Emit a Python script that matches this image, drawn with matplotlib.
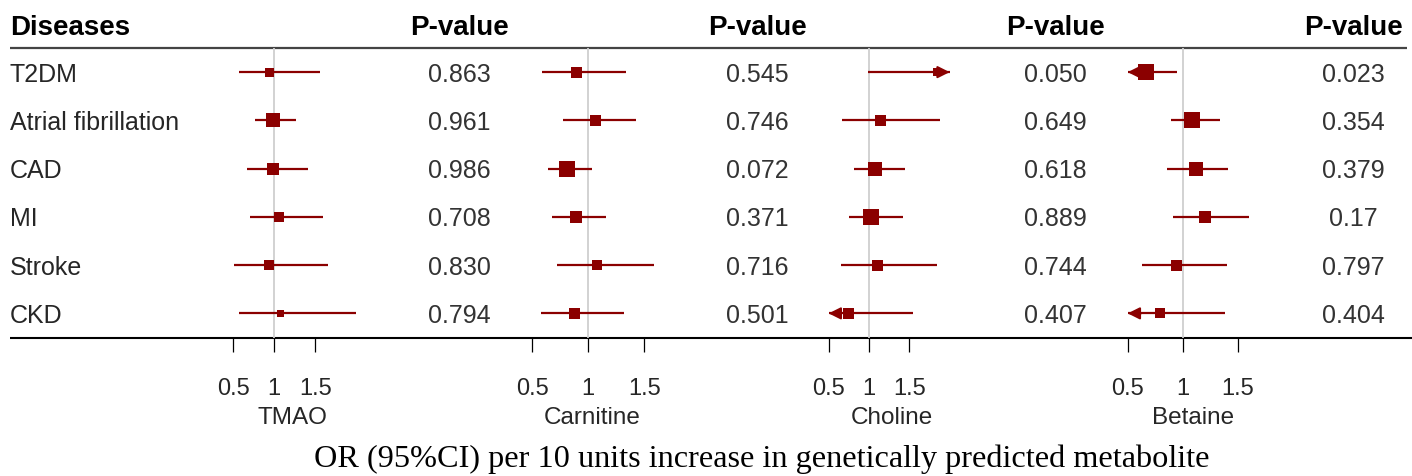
import matplotlib
matplotlib.use('Agg')
import matplotlib.pyplot as plt

W, H, DPI = 1412, 477, 100

diseases = ["T2DM", "Atrial fibrillation", "CAD", "MI", "Stroke", "CKD"]
metabolites = ["TMAO", "Carnitine", "Choline", "Betaine"]

tmao_or = [0.94, 0.98, 0.99, 1.06, 0.93, 1.07]
tmao_lo = [0.57, 0.77, 0.67, 0.71, 0.51, 0.57]
tmao_hi = [1.55, 1.26, 1.41, 1.59, 1.65, 1.99]
tmao_w = [9, 14, 12, 9.5, 9.5, 7]
tmao_p = ["0.863", "0.961", "0.986", "0.708", "0.830", "0.794"]

carn_or = [0.89, 1.06, 0.81, 0.89, 1.08, 0.87]
carn_lo = [0.59, 0.77, 0.64, 0.68, 0.72, 0.58]
carn_hi = [1.34, 1.43, 1.03, 1.16, 1.59, 1.32]
carn_w = [11, 11, 16, 12.5, 9.5, 11]
carn_p = ["0.545", "0.746", "0.072", "0.371", "0.716", "0.501"]

chol_or = [1.84, 1.14, 1.08, 1.03, 1.10, 0.74]
chol_lo = [0.99, 0.67, 0.82, 0.75, 0.65, 0.40]
chol_hi = [2.40, 1.88, 1.44, 1.42, 1.84, 1.54]
chol_w = [8, 11, 14, 16, 11, 11]
chol_p = ["0.050", "0.649", "0.618", "0.889", "0.744", "0.407"]

beta_or = [0.67, 1.08, 1.12, 1.20, 0.94, 0.79]
beta_lo = [0.42, 0.89, 0.86, 0.91, 0.63, 0.45]
beta_hi = [0.95, 1.34, 1.41, 1.60, 1.40, 1.38]
beta_w = [16, 16, 14, 11.5, 11, 9.5]
beta_p = ["0.023", "0.354", "0.379", "0.17", "0.797", "0.404"]

tick_vals = [0.5, 1, 1.5]
tick_labels = ["0.5", "1", "1.5"]
clip_lo, clip_hi = 0.5, 2.0

panels = [
    (tmao_or, tmao_lo, tmao_hi, tmao_w, tmao_p),
    (carn_or, carn_lo, carn_hi, carn_w, carn_p),
    (chol_or, chol_lo, chol_hi, chol_w, chol_p),
    (beta_or, beta_lo, beta_hi, beta_w, beta_p),
]

# layout (pixels): x of OR=1, pixels per unit, right x-limit, p-value column centre
geom = [(274.3, 82.3, 1.95, 459), (588.3, 112.0, 1.57, 757),
        (869.0, 80.7, 2.06, 1055), (1182.7, 110.0, 1.68, 1353)]
top_px, bot_px = 49.0, 338.5
row0_px = 73.1
row_step = (bot_px - top_px) / 6

SANS = ['Liberation Sans', 'DejaVu Sans']
SERIF = ['Liberation Serif', 'DejaVu Serif']
plt.rcParams['font.family'] = SANS

RED = '#8B0000'
TXT = '#262626'

fig = plt.figure(figsize=(W / DPI, H / DPI), dpi=DPI)
ov = fig.add_axes([0, 0, 1, 1])
ov.set_xlim(0, W)
ov.set_ylim(H, 0)
ov.axis('off')

# header
ov.text(10, 28, "Diseases", fontsize=20, fontweight='bold', ha='left', va='center', color='black')
for (_, _, _, pc), _m in zip(geom, metabolites):
    ov.text(pc, 28, "P-value", fontsize=20, fontweight='bold', ha='center', va='center', color='black')
ov.plot([10, 1407], [top_px, top_px], color='#444444', lw=1.6, solid_capstyle='butt')
ov.plot([10, 1412], [bot_px + 0.5, bot_px + 0.5], color='black', lw=1.5, solid_capstyle='butt')

for i, d in enumerate(diseases):
    y = row0_px + i * row_step + 1.5
    ov.text(10, y, d, fontsize=18, ha='left', va='center', color=TXT)
    for (orv, lo, hi, w, pv), (_, _, _, pc) in zip(panels, geom):
        ov.text(pc, y, pv[i], fontsize=18, ha='center', va='center', color='#333333')

ov.text(762, 459, "OR (95%CI) per 10 units increase in genetically predicted metabolite",
        fontsize=23.2, family=SERIF, ha='center', va='center', color='black')

for (orv, lo, hi, w, pv), (x1, s, xmax, pc), name in zip(panels, geom, metabolites):
    xmin = 0.5
    left = x1 + (xmin - 1) * s
    width = (xmax - xmin) * s
    ax = fig.add_axes([left / W, 1 - bot_px / H, width / W, (bot_px - top_px) / H])
    ax.patch.set_alpha(0)
    ax.set_xlim(xmin, xmax)
    ax.set_ylim(5.5, -0.5)
    for sp in ax.spines.values():
        sp.set_visible(False)
    ax.set_yticks([])
    ax.set_xticks(tick_vals)
    ax.set_xticklabels(tick_labels)
    ax.tick_params(axis='x', length=10, width=0.9, color='black', pad=18.5,
                   labelsize=17, labelcolor=TXT)
    ax.axvline(1, color='#cfcfcf', lw=1.3, zorder=1)
    for i in range(len(orv)):
        a = max(lo[i], clip_lo)
        b = min(hi[i], clip_hi)
        ax.plot([a, b], [i, i], color=RED, lw=1.6, zorder=2, solid_capstyle='butt', clip_on=False)
        if lo[i] < clip_lo:
            ax.annotate('', xy=(clip_lo, i), xytext=(clip_lo + 0.12, i),
                        arrowprops=dict(arrowstyle='-|>,head_length=0.6,head_width=0.3',
                                        color=RED, lw=1.5, shrinkA=0, shrinkB=0,
                                        mutation_scale=12), annotation_clip=False)
        if hi[i] > clip_hi:
            ax.annotate('', xy=(clip_hi, i), xytext=(clip_hi - 0.12, i),
                        arrowprops=dict(arrowstyle='-|>,head_length=0.6,head_width=0.3',
                                        color=RED, lw=1.5, shrinkA=0, shrinkB=0,
                                        mutation_scale=12), annotation_clip=False)
        ax.scatter([orv[i]], [i], marker='s', s=(w[i] * 0.72) ** 2, color=RED,
                   zorder=3, linewidths=0, clip_on=False)
    ax.text(0.5, (bot_px - 418) / (bot_px - top_px), name, transform=ax.transAxes,
            fontsize=17.5, ha='center', va='center', color=TXT)

fig.savefig('out.png', dpi=DPI)
